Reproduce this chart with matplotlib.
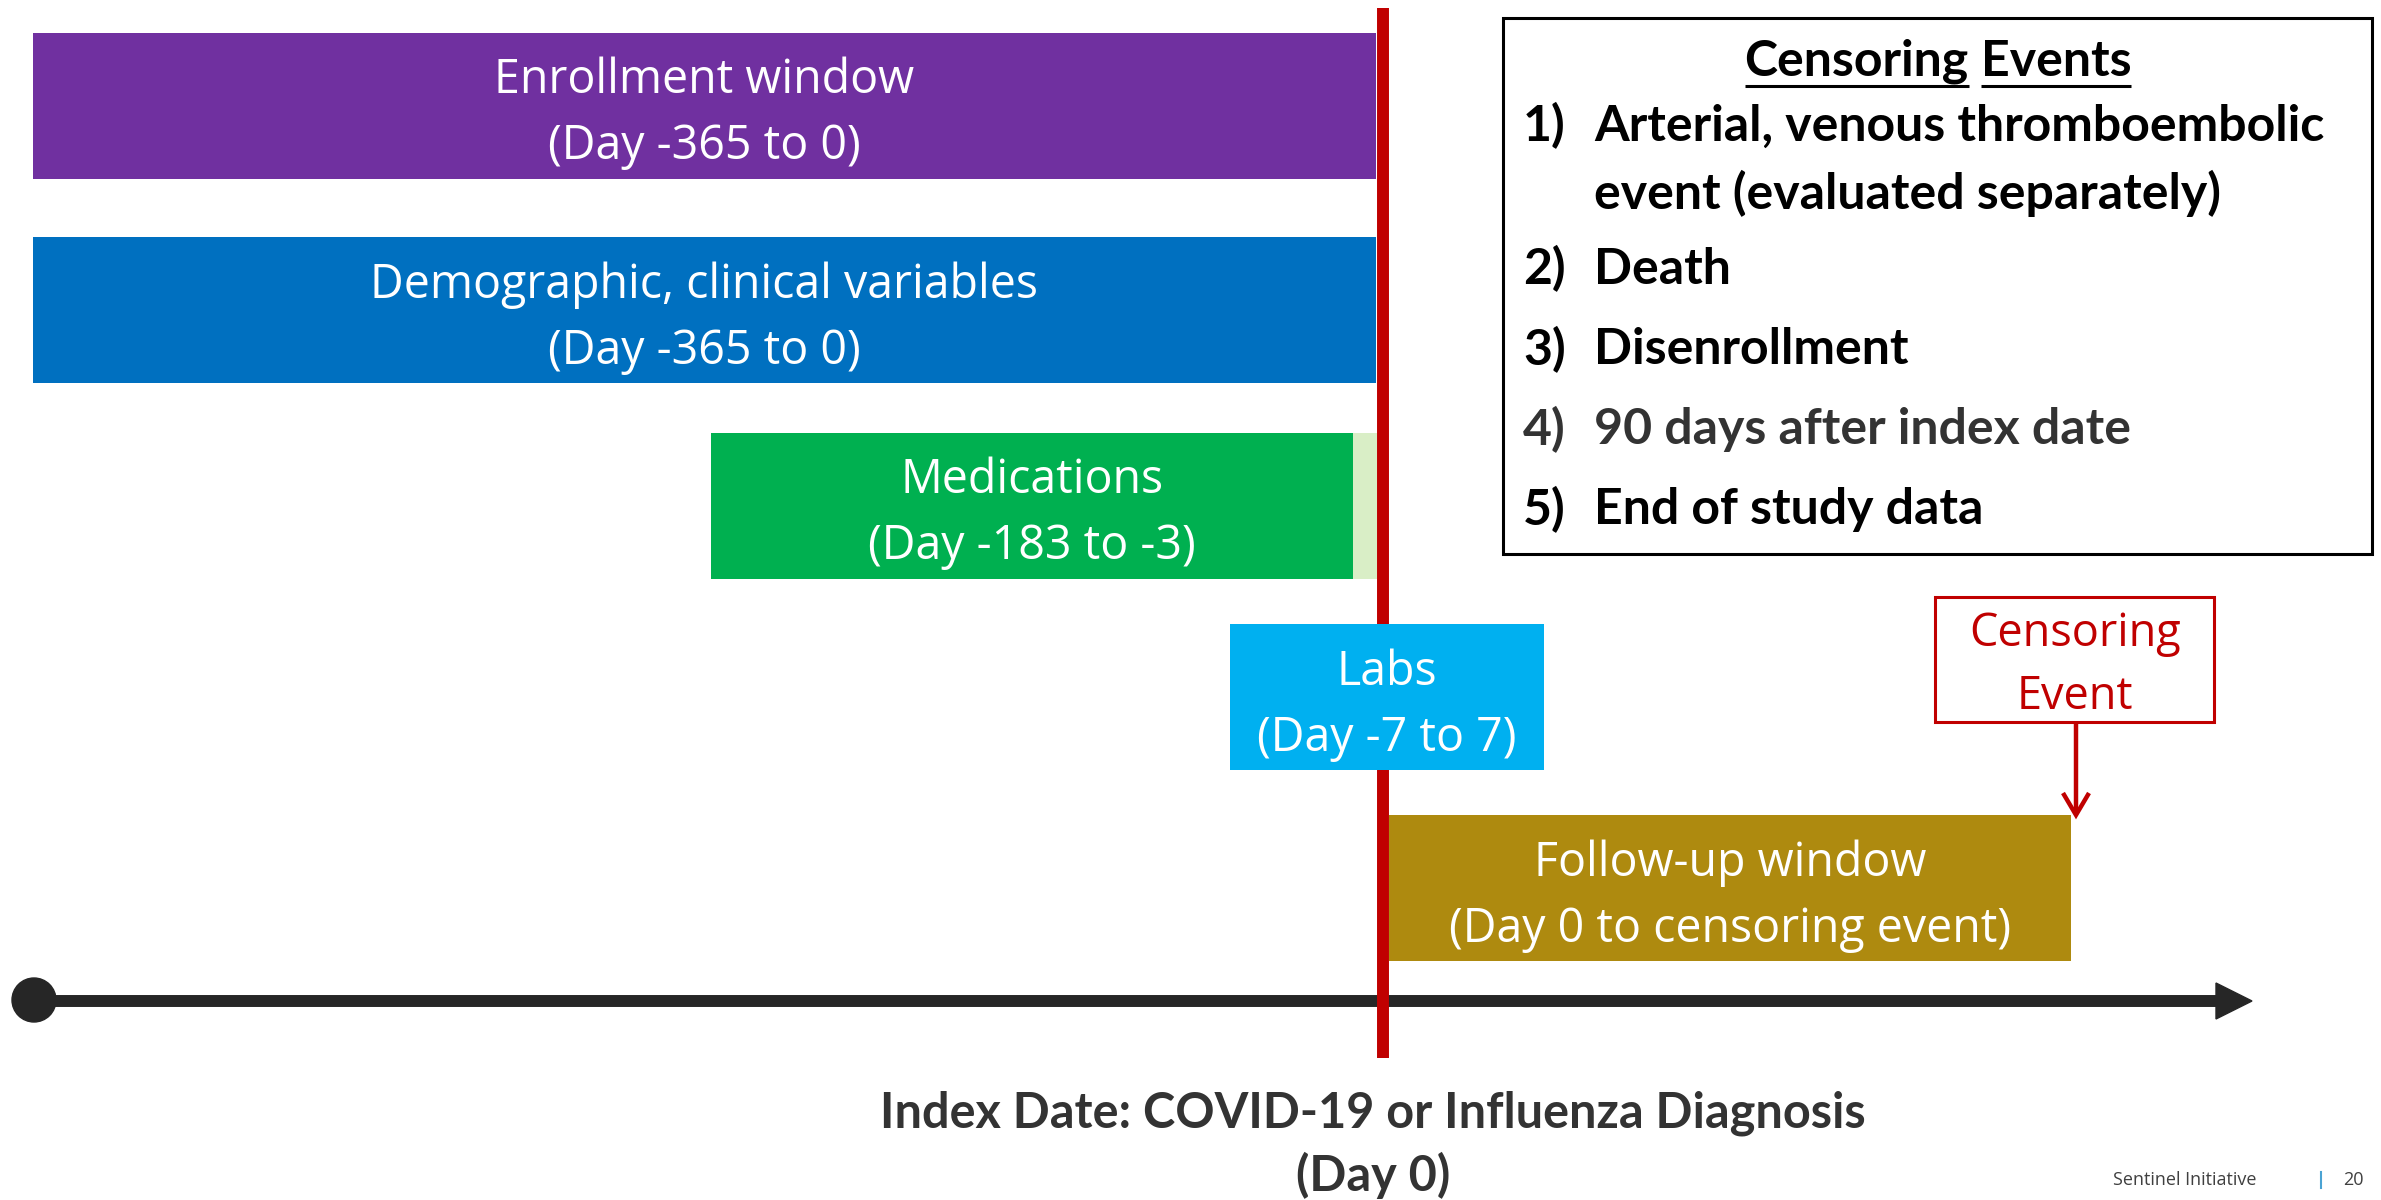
#!/usr/bin/env python3

import matplotlib
matplotlib.use("Agg")
import matplotlib.pyplot as plt
from matplotlib.patches import Rectangle, Circle

# Study design windows (schematic timeline units, index date at 1383)
window_titles = ["Enrollment window", "Demographic, clinical variables", "Medications", "Labs", "Follow-up window"]
window_days = ["(Day -365 to 0)", "(Day -365 to 0)", "(Day -183 to -3)", "(Day -7 to 7)", "(Day 0 to censoring event)"]
window_start = [33, 33, 711, 1230, 1389]
window_end = [1376, 1376, 1353, 1544, 2071]
window_colors = ["#7030A0", "#0070C0", "#00B050", "#00B0F0", "#AE8A0F"]

# Medications washout gap (Day -3 to 0)
gap_start = 1353
gap_end = 1377

index_x = 1383
censor_x = 2076

censor_title = ["Censoring", "Events"]
censor_items = [
    ("1)", "Arterial, venous thromboembolic\nevent (evaluated separately)"),
    ("2)", "Death"),
    ("3)", "Disenrollment"),
    ("4)", "90 days after index date"),
    ("5)", "End of study data"),
]
censor_item_colors = ["#000000", "#000000", "#000000", "#333333", "#000000"]

W, H = 2381, 1200
fig = plt.figure(figsize=(W / 100, H / 100), dpi=100)
fig.patch.set_facecolor("white")
ax = fig.add_axes([0, 0, 1, 1])
ax.set_xlim(0, W)
ax.set_ylim(H, 0)
ax.axis("off")

bar_font = ["Open Sans", "DejaVu Sans"]
bold_font = ["Lato", "DejaVu Sans"]

row_h = 146
row_y = [105.5, 310, 505.5, 697, 888]

# timeline (underneath everything)
ax.plot([34, 2220], [1001, 1001], color="#262626", lw=8.6, solid_capstyle="butt", zorder=1)
ax.fill([2216, 2252, 2216], [983, 1001, 1019], color="#262626", zorder=1)
ax.add_patch(Circle((34, 1000), 22, color="#262626", zorder=1))

# index date line, behind the bars
ax.plot([index_x, index_x], [8, 1058], color="#C00000", lw=8.6, solid_capstyle="butt", zorder=1.5)

# bars
for i in range(len(window_titles)):
    ax.barh(row_y[i], window_end[i] - window_start[i], left=window_start[i], height=row_h,
            color=window_colors[i], zorder=2)
    cx = (window_start[i] + window_end[i]) / 2
    ax.text(cx, row_y[i] - 25, window_titles[i], ha="center", va="center", color="white",
            fontsize=33.5, family=bar_font, zorder=3)
    ax.text(cx, row_y[i] + 41, window_days[i], ha="center", va="center", color="white",
            fontsize=33.5, family=bar_font, zorder=3)

ax.barh(row_y[2], gap_end - gap_start, left=gap_start, height=row_h, color="#D9EEC6", zorder=2)

ax.text(1373, 1113, "Index Date: COVID-19 or Influenza Diagnosis", ha="center", va="center",
        fontsize=35, fontweight="bold", family=bold_font, color="#333333")
ax.text(1373, 1175, "(Day 0)", ha="center", va="center",
        fontsize=35, fontweight="bold", family=bold_font, color="#333333")

# censoring event callout
ax.add_patch(Rectangle((1935, 597), 279, 125, fill=False, ec="#C00000", lw=2.2, zorder=3))
ax.text(2075, 634, "Censoring", ha="center", va="center", color="#C00000", fontsize=32.5, family=bar_font)
ax.text(2075, 697, "Event", ha="center", va="center", color="#C00000", fontsize=32.5, family=bar_font)
ax.plot([censor_x, censor_x], [722, 814], color="#C00000", lw=3.2, solid_capstyle="butt", zorder=3)
ax.plot([censor_x - 13, censor_x, censor_x + 13], [793, 815, 793], color="#C00000", lw=3.2,
        solid_joinstyle="miter", solid_capstyle="butt", zorder=3)

# censoring events box
ax.add_patch(Rectangle((1503, 18), 869, 536, fill=False, ec="black", lw=2.2, zorder=3))

renderer = fig.canvas.get_renderer()
title_kw = dict(fontsize=36, fontweight="bold", family=bold_font, color="black", va="baseline")
widths = []
for w in censor_title + ["A A", "AA"]:
    t = ax.text(0, 0, w, **title_kw)
    widths.append(t.get_window_extent(renderer).width)
    t.remove()
space_w = widths[2] - widths[3]
total = widths[0] + space_w + widths[1]
x0 = 1938 - total / 2
xs = [x0, x0 + widths[0] + space_w]
for j, word in enumerate(censor_title):
    ax.text(xs[j], 76, word, ha="left", **title_kw)
    ax.plot([xs[j], xs[j] + widths[j]], [86, 86], color="black", lw=2.2, solid_capstyle="butt")

item_y = [126, 269, 350, 430, 510]
for k, (num, txt) in enumerate(censor_items):
    ax.text(1523, item_y[k], num, ha="left", va="center", fontsize=36, fontweight="bold",
            family=bold_font, color=censor_item_colors[k])
    for m, line in enumerate(txt.split("\n")):
        ax.text(1594, item_y[k] + 67 * m, line, ha="left", va="center", fontsize=36,
                fontweight="bold", family=bold_font, color=censor_item_colors[k])

# footer
ax.text(2113, 1180, "Sentinel Initiative", ha="left", va="center", fontsize=13, family=bar_font, color="#404040")
ax.plot([2321, 2321], [1172, 1188], color="#4BA3D3", lw=1.5)
ax.text(2343, 1180, "20", ha="left", va="center", fontsize=13, family=bar_font, color="#404040")

fig.savefig("out.png", dpi=100, facecolor="white")
